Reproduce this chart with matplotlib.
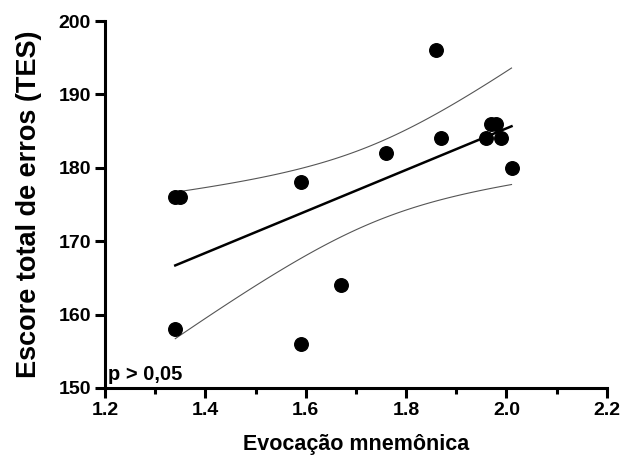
import numpy as np
import matplotlib
matplotlib.use('Agg')
import matplotlib.pyplot as plt
from matplotlib.ticker import MultipleLocator

### Data
evocacao = np.array([1.34, 1.35, 1.34, 1.59, 1.59, 1.67, 1.76,
                     1.86, 1.87, 1.96, 1.97, 1.98, 1.99, 2.01])
escore = np.array([176, 176, 158, 178, 156, 164, 182,
                   196, 184, 184, 186, 186, 184, 180])
xticks = [1.2, 1.4, 1.6, 1.8, 2.0, 2.2]
yticks = [150, 160, 170, 180, 190, 200]

### Linear fit + 95% confidence band
n = len(evocacao)
slope, intercept = np.polyfit(evocacao, escore, 1)
xfit = np.linspace(evocacao.min(), evocacao.max(), 100)
yfit = intercept + slope*xfit
resid = escore - (intercept + slope*evocacao)
s = np.sqrt(np.sum(resid**2)/(n - 2))
sxx = np.sum((evocacao - evocacao.mean())**2)
tcrit = 2.179  # t(0.975, df=12)
half = tcrit*s*np.sqrt(1./n + (xfit - evocacao.mean())**2/sxx)

plt.rc('font', family='Liberation Sans', weight='bold')

fig = plt.figure(figsize=(6.25, 4.58), dpi=100)
ax = fig.add_axes([0.168, 0.153, 0.803, 0.801])

ax.plot(xfit, yfit, color='black', linewidth=1.8, zorder=2)
ax.plot(xfit, yfit + half, color='#555555', linewidth=0.8, zorder=2)
ax.plot(xfit, yfit - half, color='#555555', linewidth=0.8, zorder=2)
ax.scatter(evocacao, escore, s=95, color='black', zorder=3)

ax.set_xlim(1.2, 2.2)
ax.set_ylim(150, 200)
ax.set_xticks(xticks)
ax.set_xticklabels(['%.1f' % v for v in xticks])
ax.set_yticks(yticks)
ax.xaxis.set_minor_locator(MultipleLocator(0.1))

for loc in ['top', 'right']:
    ax.spines[loc].set_visible(False)
for loc in ['left', 'bottom']:
    ax.spines[loc].set_linewidth(2.2)
ax.tick_params('both', which='major', length=7, width=2.2, labelsize=14, pad=3)
ax.tick_params('x', which='minor', length=4.5, width=2.2)

ax.set_xlabel('Evocação mnemônica', fontsize=15.5, fontweight='bold', labelpad=11)
ax.set_ylabel('Escore total de erros (TES)', fontsize=19.5, fontweight='bold', labelpad=12)
ax.text(1.205, 150.5, 'p > 0,05', fontsize=14.5, fontweight='bold', ha='left', va='bottom')

plt.savefig('out.png', dpi=100)
